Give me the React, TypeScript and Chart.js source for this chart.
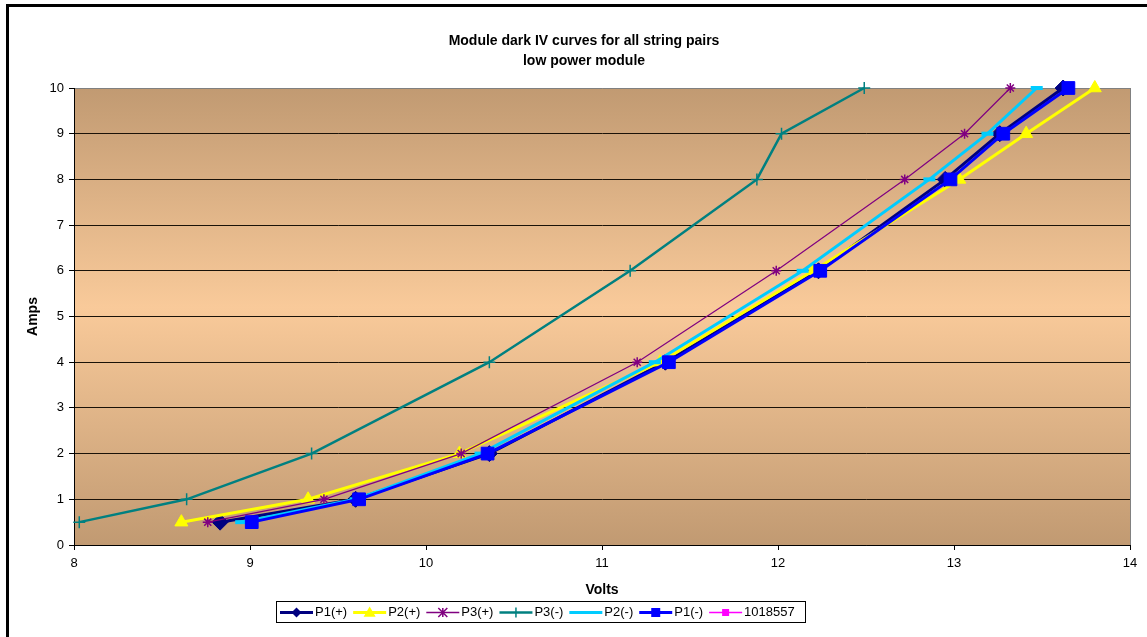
import React, { useEffect, useRef } from 'react';
import { Chart, registerables } from 'chart.js';

Chart.register(...registerables);

// ---- data ----
const amps = [0.5, 1, 2, 4, 6, 8, 9, 10];
const p1Plus = [8.83, 9.6, 10.36, 11.36, 12.23, 12.95, 13.26, 13.62];
const p2Plus = [8.61, 9.33, 10.19, 11.33, 12.2, 13.03, 13.41, 13.8];
const p3Plus = [8.76, 9.42, 10.2, 11.2, 11.99, 12.72, 13.06, 13.32];
const p3Minus = [8.03, 8.64, 9.35, 10.36, 11.16, 11.88, 12.02, 12.49];
const p2Minus = [8.95, 9.6, 10.31, 11.3, 12.14, 12.86, 13.19, 13.47];
const p1Minus = [9.01, 9.62, 10.35, 11.38, 12.24, 12.98, 13.28, 13.65];
const s1018557: number[] = [];

const seriesNames = ['P1(+)', 'P2(+)', 'P3(+)', 'P3(-)', 'P2(-)', 'P1(-)', '1018557'];
const titleLines = ['Module dark IV curves for all string pairs', 'low power module'];
const xTitle = 'Volts';
const yTitle = 'Amps';
const xMin = 8;
const xMax = 14;
const yMin = 0;
const yMax = 10;

const FONT = 'Arial, "Liberation Sans", sans-serif';

function pts(xs: number[]) {
  return xs.map((x, i) => ({ x, y: amps[i] }));
}

type LegendStyle = { color: string; width: number; marker: string; size: number };

const legendStyles: LegendStyle[] = [
  { color: '#000080', width: 3, marker: 'diamond', size: 5 },
  { color: '#FFFF00', width: 3, marker: 'triangle', size: 6 },
  { color: '#800080', width: 1.5, marker: 'star', size: 4.5 },
  { color: '#008080', width: 2.5, marker: 'cross', size: 5 },
  { color: '#00CCFF', width: 3, marker: 'none', size: 0 },
  { color: '#0000FF', width: 3, marker: 'square', size: 4.5 },
  { color: '#FF00FF', width: 1.5, marker: 'square', size: 3.5 },
];

function drawMarker(ctx: CanvasRenderingContext2D, s: LegendStyle, x: number, y: number) {
  ctx.save();
  ctx.fillStyle = s.color;
  ctx.strokeStyle = s.color;
  ctx.lineWidth = 1.5;
  const r = s.size;
  ctx.beginPath();
  if (s.marker === 'diamond') {
    ctx.moveTo(x, y - r);
    ctx.lineTo(x + r, y);
    ctx.lineTo(x, y + r);
    ctx.lineTo(x - r, y);
    ctx.closePath();
    ctx.fill();
  } else if (s.marker === 'triangle') {
    ctx.moveTo(x, y - r);
    ctx.lineTo(x + r, y + r * 0.7);
    ctx.lineTo(x - r, y + r * 0.7);
    ctx.closePath();
    ctx.fill();
  } else if (s.marker === 'square') {
    ctx.rect(x - r, y - r, 2 * r, 2 * r);
    ctx.fill();
  } else if (s.marker === 'star') {
    ctx.moveTo(x - r, y - r);
    ctx.lineTo(x + r, y + r);
    ctx.moveTo(x - r, y + r);
    ctx.lineTo(x + r, y - r);
    ctx.moveTo(x, y - r);
    ctx.lineTo(x, y + r);
    ctx.stroke();
  } else if (s.marker === 'cross') {
    ctx.moveTo(x, y - r);
    ctx.lineTo(x, y + r);
    ctx.stroke();
  }
  ctx.restore();
}

const decorPlugin = {
  id: 'decor',
  beforeDraw(chart: any) {
    const { ctx, chartArea } = chart;
    const { left, right, top, bottom } = chartArea;
    ctx.save();
    const g = ctx.createLinearGradient(0, top, 0, bottom);
    g.addColorStop(0, '#C19A72');
    g.addColorStop(0.48, '#F9CA9A');
    g.addColorStop(1, '#C19A72');
    ctx.fillStyle = g;
    ctx.fillRect(left, top, right - left, bottom - top);
    // right border of plot area
    ctx.strokeStyle = '#808080';
    ctx.lineWidth = 1;
    ctx.beginPath();
    ctx.moveTo(Math.round(right) + 0.5, top);
    ctx.lineTo(Math.round(right) + 0.5, bottom);
    ctx.stroke();
    // outer chart border
    ctx.strokeStyle = '#000';
    ctx.lineWidth = 3;
    ctx.strokeRect(7.5, 5.5, 3000, 3000);
    // title
    ctx.fillStyle = '#000';
    ctx.font = `bold 14px ${FONT}`;
    ctx.textAlign = 'center';
    ctx.textBaseline = 'middle';
    ctx.fillText(titleLines[0], 584, 41);
    ctx.fillText(titleLines[1], 584, 61);
    ctx.restore();
  },
  afterDraw(chart: any) {
    const { ctx } = chart;
    ctx.save();
    // legend box
    ctx.strokeStyle = '#000';
    ctx.lineWidth = 1;
    ctx.fillStyle = '#fff';
    ctx.fillRect(276.5, 601.5, 529, 21);
    ctx.strokeRect(276.5, 601.5, 529, 21);
    ctx.font = `13px ${FONT}`;
    ctx.textBaseline = 'middle';
    ctx.textAlign = 'left';
    let x = 280;
    const y = 612.5;
    seriesNames.forEach((name, i) => {
      const s = legendStyles[i];
      ctx.strokeStyle = s.color;
      ctx.lineWidth = s.width;
      ctx.beginPath();
      ctx.moveTo(x, y);
      ctx.lineTo(x + 33, y);
      ctx.stroke();
      drawMarker(ctx, s, x + 16.5, y);
      ctx.fillStyle = '#000';
      ctx.fillText(name, x + 35, y);
      x = x + 35 + ctx.measureText(name).width + 6;
    });
    ctx.restore();
  },
};

export default function App() {
  const ref = useRef<HTMLCanvasElement | null>(null);

  useEffect(() => {
    if (!ref.current) return;
    const n = seriesNames.length;
    const chart = new Chart(ref.current, {
      type: 'line',
      data: {
        datasets: [
          {
            label: seriesNames[0],
            data: pts(p1Plus),
            borderColor: '#000080',
            backgroundColor: '#000080',
            borderWidth: 3,
            pointStyle: 'rectRot',
            pointRadius: 8,
            pointBorderWidth: 1,
            pointBackgroundColor: '#000080',
            pointBorderColor: '#000080',
            order: n - 0,
          },
          {
            label: seriesNames[1],
            data: pts(p2Plus),
            borderColor: '#FFFF00',
            backgroundColor: '#FFFF00',
            borderWidth: 3,
            pointStyle: 'triangle',
            pointRadius: 7.5,
            pointBorderWidth: 1,
            pointBackgroundColor: '#FFFF00',
            pointBorderColor: '#FFFF00',
            order: n - 1,
          },
          {
            label: seriesNames[2],
            data: pts(p3Plus),
            borderColor: '#800080',
            backgroundColor: '#800080',
            borderWidth: 1.2,
            pointStyle: 'star',
            pointRadius: 5,
            pointBorderWidth: 1.5,
            pointBackgroundColor: '#800080',
            pointBorderColor: '#800080',
            order: n - 2,
          },
          {
            label: seriesNames[3],
            data: pts(p3Minus),
            borderColor: '#008080',
            backgroundColor: '#008080',
            borderWidth: 2.5,
            tension: 0,
            pointStyle: 'cross',
            pointRadius: 6,
            pointBorderWidth: 1.5,
            pointBackgroundColor: '#008080',
            pointBorderColor: '#008080',
            order: n - 3,
          },
          {
            label: seriesNames[4],
            data: pts(p2Minus),
            borderColor: '#00CCFF',
            backgroundColor: '#00CCFF',
            borderWidth: 3,
            pointStyle: 'line',
            pointRadius: 6,
            pointBorderWidth: 4,
            pointBackgroundColor: '#00CCFF',
            pointBorderColor: '#00CCFF',
            order: n - 4,
          },
          {
            label: seriesNames[5],
            data: pts(p1Minus),
            borderColor: '#0000FF',
            backgroundColor: '#0000FF',
            borderWidth: 3,
            pointStyle: 'rect',
            pointRadius: 9,
            pointBorderWidth: 1,
            pointBackgroundColor: '#0000FF',
            pointBorderColor: '#0000FF',
            order: n - 5,
          },
          {
            label: seriesNames[6],
            data: pts(s1018557),
            borderColor: '#FF00FF',
            backgroundColor: '#FF00FF',
            borderWidth: 1.5,
            pointStyle: 'rect',
            pointRadius: 6,
            order: n - 6,
          },
        ] as any,
      },
      options: {
        responsive: false,
        animation: false,
        devicePixelRatio: 1,
        layout: { padding: { left: 8, top: 88, right: 17, bottom: 0 } },
        datasets: { line: { clip: false as any } } as any,
        plugins: {
          legend: { display: false },
          tooltip: { enabled: false },
          title: { display: false },
        },
        scales: {
          x: {
            type: 'linear',
            min: xMin,
            max: xMax,
            afterFit: (s: any) => {
              s.height = 92;
            },
            ticks: {
              stepSize: 1,
              color: '#000',
              padding: 6,
              maxRotation: 0,
              font: { family: FONT, size: 13 },
            },
            grid: {
              drawOnChartArea: false,
              drawTicks: true,
              tickLength: 5,
              color: '#000',
              tickColor: '#000',
            },
            border: { color: '#000', width: 1 },
            title: {
              display: true,
              text: xTitle,
              color: '#000',
              font: { family: FONT, size: 14, weight: 'bold' },
              padding: { top: 0, bottom: 38 },
            },
          },
          y: {
            type: 'linear',
            min: yMin,
            max: yMax,
            afterFit: (s: any) => {
              s.width = 66;
            },
            ticks: {
              stepSize: 1,
              color: '#000',
              padding: 5,
              font: { family: FONT, size: 13 },
            },
            grid: {
              drawTicks: true,
              tickLength: 5,
              color: (c: any) => (c.tick && c.tick.value === yMax ? '#808080' : '#1a1208'),
              tickColor: '#000',
              lineWidth: 1,
            },
            border: { color: '#000', width: 1 },
            title: {
              display: true,
              text: yTitle,
              color: '#000',
              font: { family: FONT, size: 14, weight: 'bold' },
              padding: { top: 17, bottom: 0 },
            },
          },
        },
      } as any,
      plugins: [decorPlugin],
    });
    return () => chart.destroy();
  }, []);

  return (
    <div style={{ position: 'absolute', left: 0, top: 0, width: 1147, height: 637, background: '#fff' }}>
      <canvas ref={ref} width={1147} height={637} style={{ display: 'block' }} />
    </div>
  );
}
